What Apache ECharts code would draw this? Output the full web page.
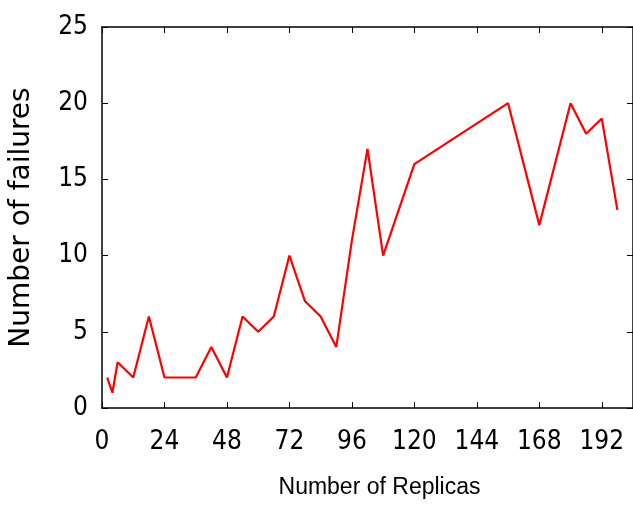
<!DOCTYPE html>
<html>
<head>
<meta charset="utf-8">
<script src="https://cdn.jsdelivr.net/npm/echarts@6.0.0/dist/echarts.min.js"></script>
<style>
  html, body { margin: 0; padding: 0; background: #fff; }
  #chart { width: 633px; height: 506px; }
</style>
</head>
<body>
<div id="chart"></div>
<script>
// Replica counts and failures
const replicas = [2, 4, 6, 12, 18, 24, 30, 36, 42, 48, 54, 60, 66, 72, 78, 84, 90, 96, 102, 108, 120, 156, 168, 180, 186, 192, 198];
const failures = [2, 1, 3, 2, 6, 2, 2, 2, 4, 2, 6, 5, 6, 10, 7, 6, 4, 11, 17, 10, 16, 20, 12, 20, 18, 19, 13];

// x axis runs a little past the last tick (192), frame is cut at the right edge
const xMin = 0, xMax = 204, xStep = 24;
const yMin = 0, yMax = 25, yStep = 5;

const tickFont = "'DejaVu Sans Condensed', 'Liberation Sans', sans-serif";
const titleFont = "'Liberation Sans', Arial, sans-serif";

const chart = echarts.init(document.getElementById('chart'));

const axisLine = { show: true, onZero: false, lineStyle: { color: '#000', width: 1.5 } };
const axisTick = { show: true, inside: true, length: 6, lineStyle: { color: '#000', width: 1 } };

const option = {
    animation: false,
    backgroundColor: '#fff',
    grid: { left: 100.5, top: 27, width: 534, height: 381, containLabel: false },
    xAxis: [
        {
            type: 'value', min: xMin, max: xMax, interval: xStep,
            position: 'bottom',
            name: 'Number of Replicas', nameLocation: 'middle', nameGap: 68,
            nameTextStyle: { fontFamily: titleFont, fontSize: 23, color: '#000', padding: [0, 0, 0, 24] },
            axisLine, axisTick,
            axisLabel: { margin: 21, fontFamily: tickFont, fontSize: 26, color: '#000', showMaxLabel: false },
            splitLine: { show: false }
        },
        {
            type: 'value', min: xMin, max: xMax, interval: xStep,
            position: 'top',
            axisLine, axisTick,
            axisLabel: { show: false },
            splitLine: { show: false }
        }
    ],
    yAxis: [
        {
            type: 'value', min: yMin, max: yMax, interval: yStep,
            position: 'left',
            name: 'Number of failures', nameLocation: 'middle', nameGap: 66,
            nameTextStyle: { fontFamily: "'DejaVu Sans', sans-serif", fontSize: 28, color: '#000' },
            axisLine, axisTick,
            axisLabel: { margin: 14, fontFamily: tickFont, fontSize: 26, color: '#000' },
            splitLine: { show: false }
        },
        {
            type: 'value', min: yMin, max: yMax, interval: yStep,
            position: 'right',
            axisLine, axisTick,
            axisLabel: { show: false },
            splitLine: { show: false }
        }
    ],
    series: [{
        type: 'line',
        data: replicas.map((r, i) => [r, failures[i]]),
        showSymbol: false,
        lineStyle: { color: '#ff0000', width: 2.2 },
        itemStyle: { color: '#ff0000' }
    }]
};

chart.setOption(option);
</script>
</body>
</html>
